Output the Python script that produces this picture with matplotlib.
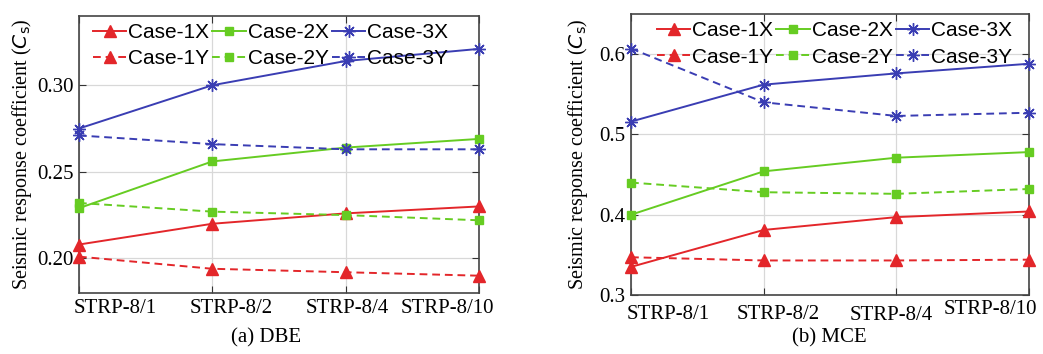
import matplotlib
matplotlib.use('Agg')
import matplotlib.pyplot as plt
from matplotlib.transforms import ScaledTranslation

# data
cases = ['STRP-8/1', 'STRP-8/2', 'STRP-8/4', 'STRP-8/10']

dbe_1x = [0.208, 0.220, 0.226, 0.230]
dbe_2x = [0.229, 0.256, 0.264, 0.269]
dbe_3x = [0.275, 0.300, 0.314, 0.321]
dbe_1y = [0.201, 0.194, 0.192, 0.190]
dbe_2y = [0.232, 0.227, 0.225, 0.222]
dbe_3y = [0.271, 0.266, 0.263, 0.263]

mce_1x = [0.335, 0.381, 0.397, 0.404]
mce_2x = [0.400, 0.454, 0.471, 0.478]
mce_3x = [0.516, 0.562, 0.576, 0.588]
mce_1y = [0.347, 0.343, 0.343, 0.344]
mce_2y = [0.440, 0.428, 0.426, 0.432]
mce_3y = [0.607, 0.540, 0.523, 0.527]

RED = '#e3262a'
GREEN = '#66cc22'
BLUE = '#3a3db3'

serif = ['Liberation Serif', 'DejaVu Serif']
sans = ['Liberation Sans', 'DejaVu Sans']


def draw_panel(ax, series, ylim, yticks, yfmt, caption, cap_x, label_dx, label_dy,
               leg_x, ylabelpad):
    x = list(range(len(cases)))
    styles = [
        ('Case-1X', RED, '^', 9, '-'),
        ('Case-1Y', RED, '^', 9, '--'),
        ('Case-2X', GREEN, 's', 6, '-'),
        ('Case-2Y', GREEN, 's', 6, '--'),
        ('Case-3X', BLUE, (8, 2, 0), 9, '-'),
        ('Case-3Y', BLUE, (8, 2, 0), 9, '--'),
    ]
    handles = []
    for vals, (name, col, mk, ms, ls) in zip(series, styles):
        h, = ax.plot(x, vals, color=col, marker=mk, markersize=ms, linestyle=ls,
                     linewidth=1.4, markeredgewidth=1.0, label=name, clip_on=False,
                     zorder=3)
        if ls == '--':
            h.set_dashes((4, 2.5))
        handles.append(h)

    ax.set_xlim(0, len(cases) - 1)
    ax.set_ylim(*ylim)
    ax.set_xticks(x)
    ax.set_xticklabels(cases, fontfamily=serif, fontsize=15)
    ax.set_yticks(yticks)
    ax.set_yticklabels([yfmt.format(v) for v in yticks], fontfamily=serif, fontsize=15)
    ax.tick_params(direction='in', top=True, right=True, length=5, width=0.8,
                   pad=4, color='#333333')
    ax.grid(True, color='#d8d8d8', linewidth=0.9)
    ax.set_axisbelow(True)
    for sp in ax.spines.values():
        sp.set_color('#444444')
        sp.set_linewidth(1.2)

    # MATLAB-style uneven placement of the category labels
    for lab, dx, dy in zip(ax.get_xticklabels(), label_dx, label_dy):
        lab.set_transform(lab.get_transform() +
                          ScaledTranslation(dx / 100, dy / 100, ax.figure.dpi_scale_trans))

    ax.set_ylabel('Seismic response coefficient ($C_{\\mathrm{s}}$)',
                  fontfamily=serif, fontsize=14.5, labelpad=ylabelpad)

    leg = ax.legend(handles=handles, ncol=3, loc='upper left',
                    bbox_to_anchor=(leg_x, 0.975), frameon=False,
                    prop={'family': sans, 'size': 15},
                    handlelength=1.6, handletextpad=0.1, columnspacing=0.15,
                    labelspacing=0.36, borderaxespad=0.0, borderpad=0.0)
    leg.set_zorder(5)

    ax.figure.text(cap_x, 0.045, caption, ha='center', va='center',
                   fontfamily=serif, fontsize=15)


fig = plt.figure(figsize=(10.43, 3.54), dpi=100)
ax1 = fig.add_axes([0.0757, 0.1723, 0.3835, 0.7825])
ax2 = fig.add_axes([0.605, 0.1667, 0.3816, 0.7938])

draw_panel(ax1, [dbe_1x, dbe_1y, dbe_2x, dbe_2y, dbe_3x, dbe_3y],
           (0.18, 0.34), [0.20, 0.25, 0.30], '{:.2f}', '(a) DBE', 266 / 1043,
           [36, 19, 2, -32], [0, 0, 0, 0], 0.035, 2)
draw_panel(ax2, [mce_1x, mce_1y, mce_2x, mce_2y, mce_3x, mce_3y],
           (0.3, 0.65), [0.3, 0.4, 0.5, 0.6], '{:.1f}', '(b) MCE', 829 / 1043,
           [37, 15, -5, -39], [-4, -4, -5, 1], 0.065, 7)

fig.savefig('out.png', dpi=100)
